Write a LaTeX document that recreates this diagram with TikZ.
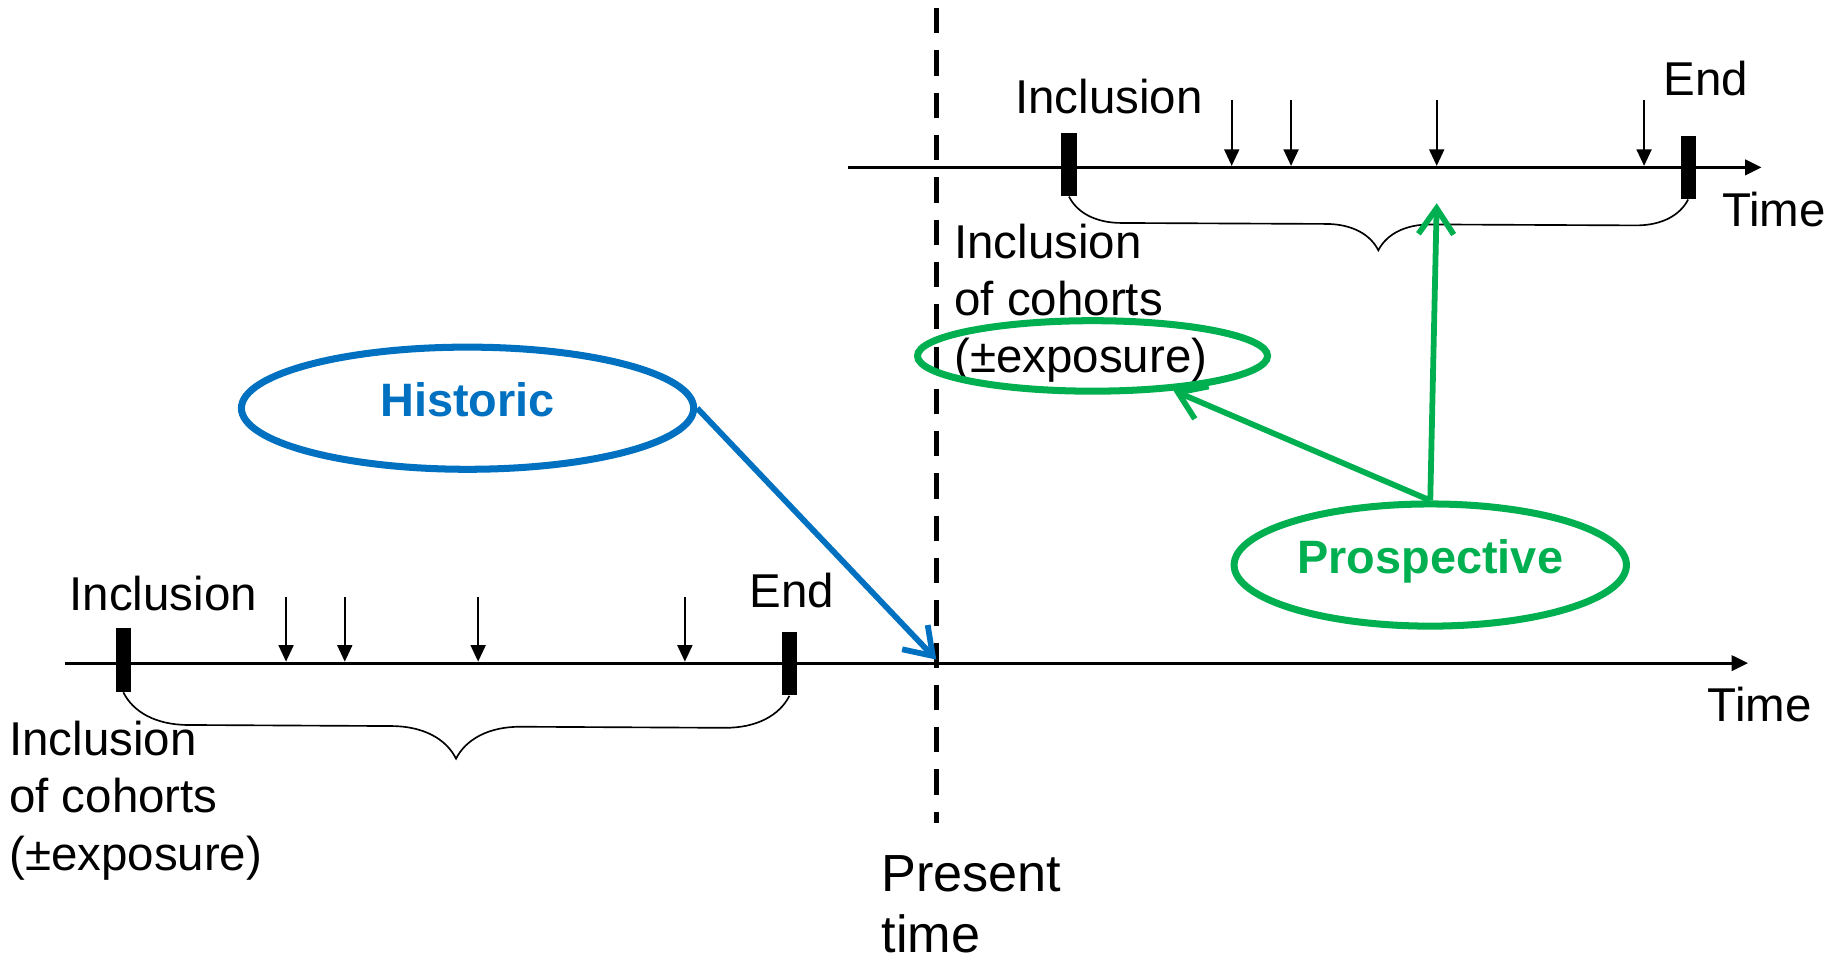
\documentclass[tikz,border=0pt]{standalone}
\usepackage{fontspec}
\setmainfont{Liberation Sans}
\usetikzlibrary{arrows.meta,shapes.geometric,decorations.pathreplacing}
\definecolor{histblue}{HTML}{0070C0}
\definecolor{prosgreen}{HTML}{00B050}

\begin{document}
\begin{tikzpicture}[
    lbl/.style={font=\fontsize{23}{27.8}\selectfont, inner sep=0pt},
    lblbig/.style={font=\fontsize{25.3}{29.5}\selectfont, inner sep=0pt},
    bar/.style={fill=black, inner sep=0pt, minimum width=0.26cm, minimum height=1.08cm},
    timeline/.style={line width=1.45pt, -{Triangle[length=2.8mm,width=2.6mm]}},
    visit/.style={line width=1.2pt, -{Triangle[length=2.8mm,width=2.5mm]}},
    span/.style={line width=0.8pt, decorate, decoration={brace, mirror, amplitude=#1}},
    bubble/.style={ellipse, draw=#1, text=#1, line width=3.4pt, inner sep=0pt,
      text depth=8pt, font=\fontsize{22.7}{27}\selectfont\bfseries},
    pointer/.style={draw=#1, line width=2.8pt, -{Straight Barb[length=4.4mm,width=6mm]}}
  ]
  \useasboundingbox (0,0) rectangle (31.36,16.38);

  % present time
  \coordinate (nowtop) at (15.94,16.24);
  \coordinate (nowbot) at (15.94,2.36);
  \draw[line width=2.6pt, dash pattern=on 0.43cm off 0.29cm] (nowtop) -- (nowbot);
  \node[lblbig, anchor=north west, align=left] (nowlbl) at (15.0,1.82) {Present\\time};

  % historic cohort
  \coordinate (b0) at (1.10,5.09);
  \coordinate (b1) at (29.76,5.09);
  \draw[timeline] (b0) -- (b1);
  \node[bar] (bin) at (2.10,5.14) {};
  \node[bar] (bend) at (13.44,5.08) {};
  \draw[span=1.1cm] (bin.south) -- (bend.south);
  \foreach \x [count=\i] in {4.87,5.87,8.14,11.66} {
    \coordinate (bv\i) at (\x,6.22);
    \draw[visit, shorten >=0.7pt] (bv\i) -- (bv\i |- b0);
  }
  \node[lbl, anchor=base] (binlbl) at (2.78,5.99) {Inclusion};
  \node[lbl, anchor=base] (bendlbl) at (13.48,6.04) {End};
  \node[lbl, anchor=base] (btime) at (29.96,4.09) {Time};
  \node[lbl, anchor=north west, align=left] (bcoh) at (0.15,4.11)
    {Inclusion\\of cohorts\\(±exposure)};

  % prospective cohort
  \coordinate (t0) at (14.43,13.53);
  \coordinate (t1) at (29.99,13.53);
  \draw[timeline] (t0) -- (t1);
  \node[bar] (tin) at (18.20,13.58) {};
  \node[bar] (tend) at (28.74,13.53) {};
  \draw[span=0.89cm] (tin.south) -- (tend.south);
  \foreach \x [count=\i] in {20.97,21.98,24.46,27.99} {
    \coordinate (tv\i) at (\x,14.68);
    \draw[visit, shorten >=0.7pt] (tv\i) -- (tv\i |- t0);
  }
  \node[lbl, anchor=base] (tinlbl) at (18.88,14.45) {Inclusion};
  \node[lbl, anchor=base] (tendlbl) at (29.04,14.76) {End};
  \node[lbl, anchor=base] (ttime) at (30.2,12.53) {Time};
  \node[lbl, anchor=north west, align=left] (tcoh) at (16.24,12.58)
    {Inclusion\\of cohorts\\(±exposure)};

  % study types
  \node[bubble=histblue, minimum width=7.7cm, minimum height=2.08cm] (hist) at (7.96,9.43) {Historic};
  \node[bubble=prosgreen, minimum width=6.68cm, minimum height=2.08cm] (prosp) at (24.35,6.76) {Prospective};
  \node[bubble=prosgreen, minimum width=5.96cm, minimum height=1.2cm] (ring) at (18.60,10.32) {};

  \coordinate (now) at (15.94,5.15);
  \coordinate (followup) at (24.46,12.92);
  \draw[pointer=histblue] (hist.east) -- (now);
  \draw[pointer=prosgreen] (prosp.north) -- (followup);
  \draw[pointer=prosgreen] (prosp.north) -- (ring);
\end{tikzpicture}
\end{document}
